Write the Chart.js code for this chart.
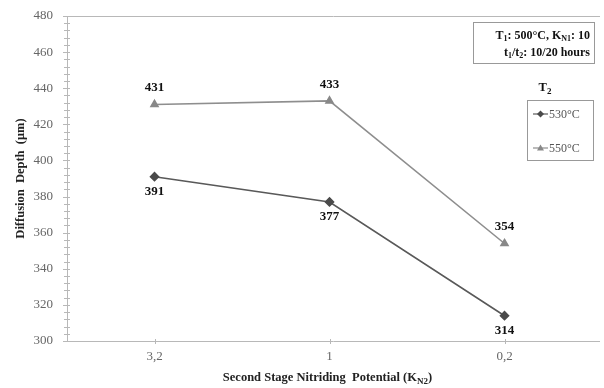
<!DOCTYPE html>
<html>
<head>
<meta charset="utf-8">
<script src="https://cdn.jsdelivr.net/npm/chart.js@4/dist/chart.umd.min.js"></script>
<style>
  html, body { margin: 0; padding: 0; background: #fff; }
  #wrap { width: 604px; height: 388px; }
</style>
</head>
<body>
<div id="wrap"><canvas id="c" width="604" height="388"></canvas></div>
<script>
// Second-stage nitriding potential (K_N2) categories
const categories = ['3,2', '1', '0,2'];
// Diffusion depth (µm) for each second-stage temperature T2
const depth530 = [391, 377, 314];
const depth550 = [431, 433, 354];
const seriesNames = ['530°C', '550°C'];
const yMin = 300, yMax = 480, yMajor = 20, yMinor = 4;

const SERIF = '"Liberation Serif", "DejaVu Serif", serif';
const axisGray = '#b8b8b8';
const tickGray = '#666';

// Text with subscript runs: parts = [[text, isSub], ...]
function drawRich(ctx, parts, x, y, size, align) {
  ctx.save();
  ctx.textBaseline = 'alphabetic';
  ctx.textAlign = 'left';
  let total = 0;
  const subSize = Math.round(size * 0.7);
  const widths = parts.map(([t, sub]) => {
    ctx.font = 'bold ' + (sub ? subSize : size) + 'px ' + SERIF;
    const w = ctx.measureText(t).width; total += w; return w;
  });
  let cx = align === 'center' ? x - total / 2 : align === 'right' ? x - total : x;
  parts.forEach(([t, sub], i) => {
    ctx.font = 'bold ' + (sub ? subSize : size) + 'px ' + SERIF;
    ctx.fillText(t, cx, sub ? y + size * 0.2 : y);
    cx += widths[i];
  });
  ctx.restore();
}

const decorations = {
  id: 'decorations',
  afterDraw(chart) {
    const { ctx, chartArea: a, scales: { x, y } } = chart;
    ctx.save();
    // axis lines and top frame line
    ctx.strokeStyle = axisGray;
    ctx.lineWidth = 1;
    ctx.beginPath();
    ctx.moveTo(a.left + 0.5, a.top); ctx.lineTo(a.left + 0.5, a.bottom);
    ctx.moveTo(a.left, a.bottom + 0.5); ctx.lineTo(chart.width - 4, a.bottom + 0.5);
    ctx.moveTo(a.left, a.top + 0.5); ctx.lineTo(chart.width - 4, a.top + 0.5);
    ctx.stroke();
    // crossing tick marks on y (every yMinor) and x (each category)
    ctx.beginPath();
    for (let v = yMin; v <= yMax; v += yMinor) {
      const py = Math.round(y.getPixelForValue(v)) + 0.5;
      const len = (v % yMajor === 0) ? 4 : 3;
      ctx.moveTo(a.left - len, py); ctx.lineTo(a.left + 3, py);
    }
    categories.forEach((c, i) => {
      const px = Math.round(x.getPixelForValue(i)) + 0.5;
      ctx.moveTo(px, a.bottom - 2); ctx.lineTo(px, a.bottom + 3);
    });
    ctx.stroke();

    // value labels
    ctx.fillStyle = '#111';
    ctx.font = 'bold 13px ' + SERIF;
    ctx.textAlign = 'center';
    chart.data.datasets.forEach((ds, di) => {
      const meta = chart.getDatasetMeta(di);
      meta.data.forEach((pt, i) => {
        if (di === 1) { ctx.textBaseline = 'bottom'; ctx.fillText(String(ds.data[i]), pt.x, pt.y - 10); }
        else { ctx.textBaseline = 'top'; ctx.fillText(String(ds.data[i]), pt.x, pt.y + 8); }
      });
    });

    // axis titles
    ctx.fillStyle = '#222';
    drawRich(ctx, [['Second Stage Nitriding  Potential (K', false], ['N2', true], [')', false]],
      (a.left + a.right) / 2 - 2, 381, 12.5, 'center');
    ctx.save();
    ctx.translate(24, (a.top + a.bottom) / 2);
    ctx.rotate(-Math.PI / 2);
    drawRich(ctx, [['Diffusion  Depth  (μm)', false]], 0, 0, 12.5, 'center');
    ctx.restore();

    // condition box
    ctx.strokeStyle = '#999';
    ctx.strokeRect(473.5, 22.5, 121, 41);
    ctx.fillStyle = '#111';
    drawRich(ctx, [['T', false], ['1', true], [': 500°C, K', false], ['N1', true], [': 10', false]], 590, 39, 12, 'right');
    drawRich(ctx, [['t', false], ['1', true], ['/t', false], ['2', true], [': 10/20 hours', false]], 590, 56, 12, 'right');

    // legend
    drawRich(ctx, [['T', false], ['2', true]], 545, 91, 12.5, 'center');
    ctx.strokeRect(527.5, 100.5, 66, 60);
    chart.data.datasets.forEach((ds, di) => {
      const ly = di === 0 ? 114 : 148;
      ctx.strokeStyle = ds.borderColor; ctx.lineWidth = 1.2;
      ctx.beginPath(); ctx.moveTo(533, ly); ctx.lineTo(548, ly); ctx.stroke();
      ctx.fillStyle = ds.pointBackgroundColor;
      ctx.beginPath();
      if (di === 0) { ctx.moveTo(540.5, ly - 3.5); ctx.lineTo(544, ly); ctx.lineTo(540.5, ly + 3.5); ctx.lineTo(537, ly); }
      else { ctx.moveTo(540.5, ly - 3.5); ctx.lineTo(544, ly + 2.5); ctx.lineTo(537, ly + 2.5); }
      ctx.closePath(); ctx.fill();
      ctx.fillStyle = '#555';
      ctx.font = '12px ' + SERIF;
      ctx.textAlign = 'left'; ctx.textBaseline = 'middle';
      ctx.fillText(seriesNames[di], 549, ly + 0.5);
    });
    ctx.restore();
  }
};

new Chart(document.getElementById('c'), {
  type: 'line',
  data: {
    labels: categories,
    datasets: [
      { label: seriesNames[0], data: depth530, borderColor: '#595959', backgroundColor: '#595959',
        pointBackgroundColor: '#4a4a4a', pointBorderColor: '#4a4a4a', pointStyle: 'rectRot',
        pointRadius: 4, borderWidth: 1.6, tension: 0 },
      { label: seriesNames[1], data: depth550, borderColor: '#8e8e8e', backgroundColor: '#8e8e8e',
        pointBackgroundColor: '#888', pointBorderColor: '#888', pointStyle: 'triangle',
        pointRadius: 4, borderWidth: 1.6, tension: 0 }
    ]
  },
  options: {
    responsive: false,
    animation: false,
    layout: { padding: { left: 0, right: 12, top: 0, bottom: 0 } },
    plugins: { legend: { display: false }, tooltip: { enabled: false } },
    scales: {
      x: {
        offset: true,
        grid: { display: false, drawTicks: false },
        border: { display: false },
        ticks: { color: tickGray, font: { family: SERIF, size: 13 }, padding: 8 },
        afterFit(s) { s.height = 47; }
      },
      y: {
        min: yMin, max: yMax,
        grid: { display: false, drawTicks: false },
        border: { display: false },
        ticks: { stepSize: yMajor, color: tickGray, font: { family: SERIF, size: 13 }, padding: 14 },
        afterFit(s) { s.width = 67; s.paddingTop = 16; }
      }
    }
  },
  plugins: [decorations]
});
</script>
</body>
</html>
